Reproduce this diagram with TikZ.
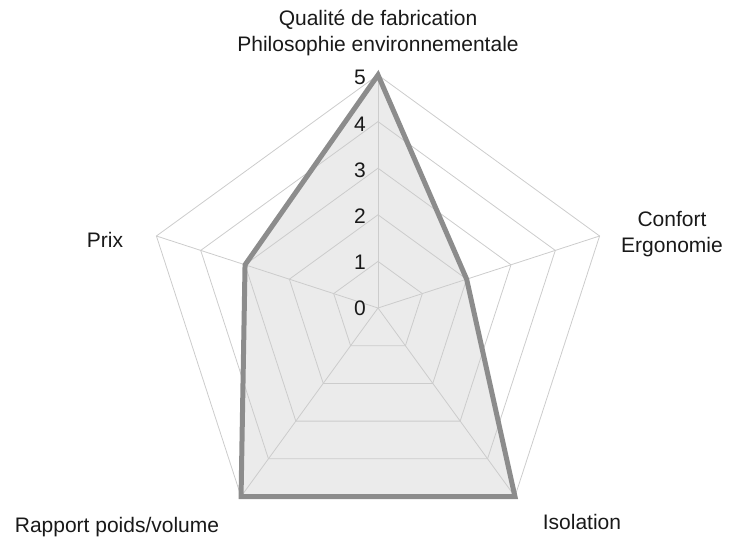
\documentclass[tikz,border=0pt]{standalone}
\usepackage{fontspec}
\setmainfont{Liberation Sans}
\begin{document}
\begin{tikzpicture}[x=1pt,y=-1pt,
  grid/.style={draw=black!20,line width=0.8pt},
  lbl/.style={font=\fontsize{21}{26}\selectfont,text=black!90,align=center,inner sep=1pt},
  num/.style={font=\fontsize{21}{24}\selectfont,text=black!90,anchor=east,inner sep=1pt}]
\useasboundingbox (0,0) rectangle (750,548);
\def\u{46.6}
\coordinate (O) at (378,308);
% data polygon fill
\fill[black!8]
  ([shift={(-90:5*\u)}]O) -- ([shift={(-18:2*\u)}]O) -- ([shift={(54:5*\u)}]O)
  -- ([shift={(126:5*\u)}]O) -- ([shift={(-162:3*\u)}]O) -- cycle;
% grid
\foreach \r in {1,...,5}{
  \draw[grid] ([shift={(-90:\r*\u)}]O) -- ([shift={(-18:\r*\u)}]O) -- ([shift={(54:\r*\u)}]O)
    -- ([shift={(126:\r*\u)}]O) -- ([shift={(-162:\r*\u)}]O) -- cycle;}
\foreach \a in {-90,-18,54,126,-162}
  \draw[grid] (O) -- ([shift={(\a:5*\u)}]O);
% data outline
\draw[black!45,line width=5pt,line join=miter]
  ([shift={(-90:5*\u)}]O) -- ([shift={(-18:2*\u)}]O) -- ([shift={(54:5*\u)}]O)
  -- ([shift={(126:5*\u)}]O) -- ([shift={(-162:3*\u)}]O) -- cycle;
% numbers
\foreach \r/\y in {0/308,1/262,2/216,3/170,4/124,5/77}
  \node[num] (n\r) at (367,\y) {\r};
% axis labels
\node[lbl] (q) at (378,33) {Qualité de fabrication\\Philosophie environnementale};
\node[lbl] (c) at (672,234) {Confort\\Ergonomie};
\node[lbl] (i) at (582,522) {Isolation};
\node[lbl] (r) at (117,527) {Rapport poids/volume};
\node[lbl] (p) at (105,240) {Prix};
\end{tikzpicture}
\end{document}
